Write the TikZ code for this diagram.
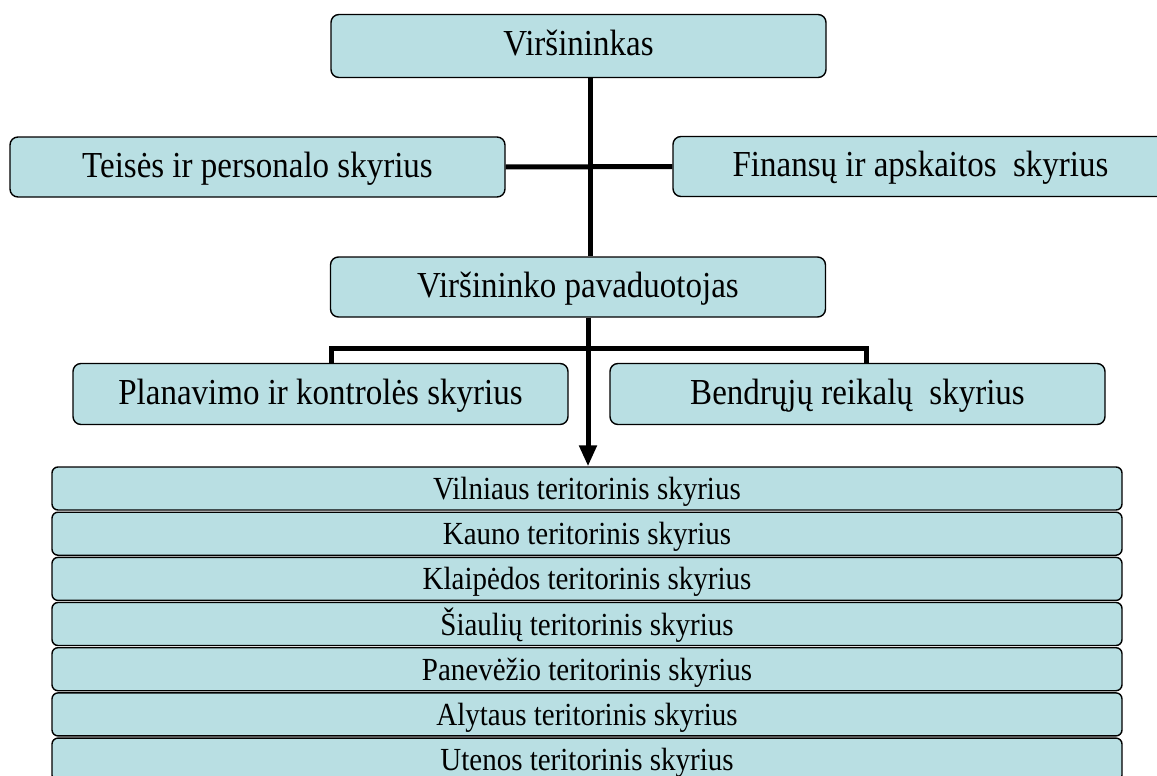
\documentclass[tikz,border=0pt]{standalone}
\usepackage{graphicx}
\usepackage{fontspec}
\setmainfont{Liberation Serif}
\usetikzlibrary{arrows.meta,calc}
\definecolor{boxfill}{RGB}{185,223,227}
\newcommand{\vstretch}[1]{\scalebox{1}[1.11]{#1}}
\tikzset{
  orgbox/.style={draw=black, line width=1.4pt, fill=boxfill, rounded corners=8pt,
    inner sep=0pt, anchor=center, text height=26pt, text depth=6pt,
    font=\fontsize{33}{40}\selectfont},
  bigbox/.style={orgbox, minimum width=495pt, minimum height=61pt},
  terbox/.style={orgbox, minimum width=1070pt, minimum height=43pt, rounded corners=6pt,
    text height=26pt, text depth=4pt, font=\fontsize{29}{34}\selectfont},
  conn/.style={line width=5pt},
}
\begin{document}
\begin{tikzpicture}[x=1pt,y=-1pt]
\useasboundingbox (0,0) rectangle (1157,776);
\node[bigbox, minimum height=63pt] (boss) at (578.5,46) {\vstretch{Viršininkas}};
\node[bigbox, minimum height=60pt] (teis) at (257.5,167) {\vstretch{Teisės ir personalo skyrius}};
\node[bigbox, minimum height=60pt] (fin) at (920.5,166.5) {\vstretch{Finansų ir apskaitos\ \ skyrius}};
\node[bigbox, minimum height=60pt] (pav) at (578,287) {\vstretch{Viršininko pavaduotojas}};
\node[bigbox] (plan) at (320.5,394) {\vstretch{Planavimo ir kontrolės skyrius}};
\node[bigbox] (bend) at (857.5,394) {\vstretch{Bendrųjų reikalų\ \ skyrius}};
\node[terbox] (t1) at (587,488.5) {\vstretch{Vilniaus teritorinis skyrius}};
\node[terbox] (t2) at (587,533.7) {\vstretch{Kauno teritorinis skyrius}};
\node[terbox] (t3) at (587,578.9) {\vstretch{Klaipėdos teritorinis skyrius}};
\node[terbox] (t4) at (587,624.0) {\vstretch{Šiaulių teritorinis skyrius}};
\node[terbox] (t5) at (587,669.2) {\vstretch{Panevėžio teritorinis skyrius}};
\node[terbox] (t6) at (587,714.4) {\vstretch{Alytaus teritorinis skyrius}};
\node[terbox] (t7) at (587,759.6) {\vstretch{Utenos teritorinis skyrius}};
% connectors
\coordinate (spine) at (590,0);
\coordinate (spine2) at (588,0);
\coordinate (bl) at (331,348);
\coordinate (br) at (866,348);
\draw[conn] (boss.south -| spine) -- (pav.north -| spine);
\draw[conn] (teis.east) -- (fin.west);
\draw[conn] (bl |- plan.north) -- (bl) -- (br) -- (br |- bend.north);
\draw[conn, -{Triangle[width=17pt,length=21pt]}] (pav.south -| spine2) -- (t1.north -| spine2);
\end{tikzpicture}
\end{document}
